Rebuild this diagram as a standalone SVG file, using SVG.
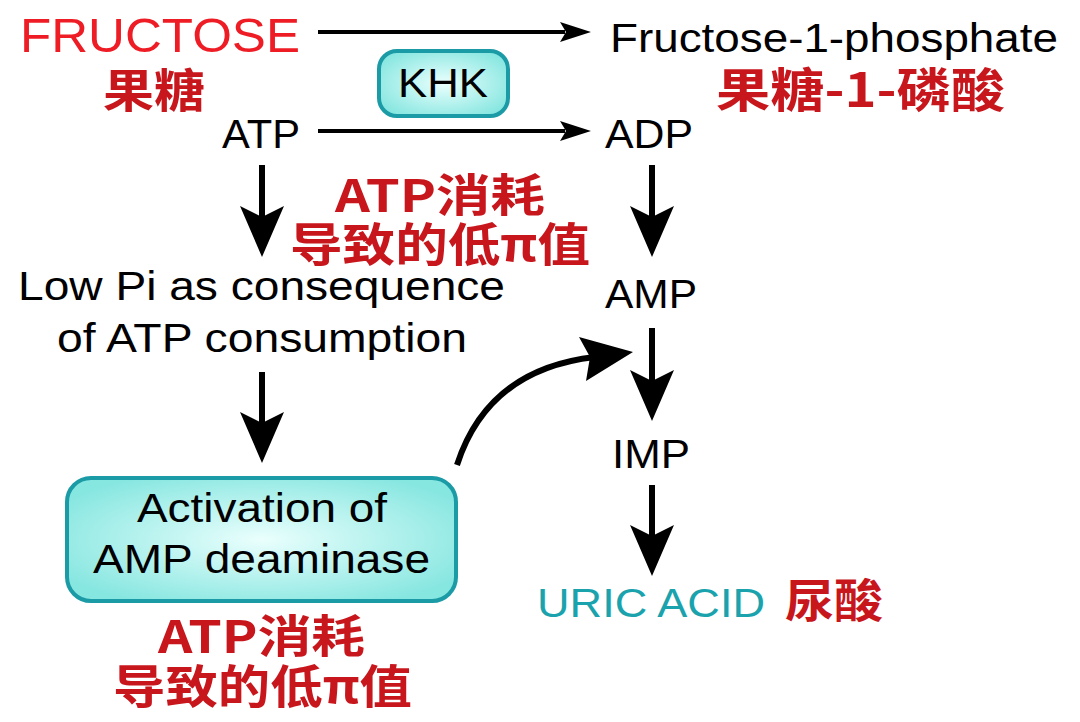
<svg xmlns="http://www.w3.org/2000/svg" width="1080" height="722" viewBox="0 0 1080 722">
<defs>
<radialGradient id="boxfill" cx="50%" cy="50%" r="60%">
<stop offset="0%" stop-color="#eafffd"/>
<stop offset="100%" stop-color="#86e6e0"/>
</radialGradient>
<style>
.lat{font-family:"Liberation Sans",Arial,sans-serif;fill:#000;}
.cn{font-family:"Noto Sans CJK SC","Noto Sans",sans-serif;font-weight:bold;fill:#c8161d;}
.box{fill:url(#boxfill);stroke:#1b9ba6;stroke-width:4;}
.ln{stroke:#000;fill:none;}
.hd{fill:#000;}
</style>
</defs>
<rect width="1080" height="722" fill="#fff"/>

<g id="fructose">
<text class="lat" x="20" y="52" font-size="48" textLength="280" lengthAdjust="spacingAndGlyphs" style="fill:#ee1c25">FRUCTOSE</text>
<text class="cn" x="103" y="107" font-size="46" textLength="102" lengthAdjust="spacingAndGlyphs">果糖</text>
</g>
<g id="f1p">
<text class="lat" x="610" y="52" font-size="41" textLength="448" lengthAdjust="spacingAndGlyphs">Fructose-1-phosphate</text>
<text class="cn" x="716" y="107" font-size="47" textLength="289" lengthAdjust="spacingAndGlyphs">果糖-1-磷酸</text>
</g>
<g id="khk">
<rect class="box" x="379" y="51" width="129" height="65" rx="18"/>
<text class="lat" x="443" y="97" font-size="40" text-anchor="middle" textLength="90" lengthAdjust="spacingAndGlyphs">KHK</text>
</g>
<g id="atp">
<text class="lat" x="222" y="148" font-size="40" textLength="78" lengthAdjust="spacingAndGlyphs">ATP</text>
</g>
<g id="adp">
<text class="lat" x="605" y="148" font-size="40" textLength="88" lengthAdjust="spacingAndGlyphs">ADP</text>
</g>
<g id="note-top">
<text class="cn" x="335" y="212" font-size="45" textLength="210" lengthAdjust="spacingAndGlyphs">ATP消耗</text>
<text class="cn" x="290" y="261" font-size="46" textLength="300" lengthAdjust="spacingAndGlyphs">导致的低π值</text>
</g>
<g id="lowpi">
<text class="lat" x="18" y="300" font-size="40" textLength="487" lengthAdjust="spacingAndGlyphs">Low Pi as consequence</text>
<text class="lat" x="57" y="352" font-size="40" textLength="410" lengthAdjust="spacingAndGlyphs">of ATP consumption</text>
</g>
<g id="amp">
<text class="lat" x="605" y="308" font-size="40" textLength="92" lengthAdjust="spacingAndGlyphs">AMP</text>
</g>
<g id="imp">
<text class="lat" x="612" y="468" font-size="40" textLength="78" lengthAdjust="spacingAndGlyphs">IMP</text>
</g>
<g id="deaminase">
<rect class="box" x="67" y="478" width="389" height="123" rx="24"/>
<text class="lat" x="137" y="522" font-size="40" textLength="250" lengthAdjust="spacingAndGlyphs">Activation of</text>
<text class="lat" x="93" y="573" font-size="40" textLength="337" lengthAdjust="spacingAndGlyphs">AMP deaminase</text>
</g>
<g id="uric">
<text class="lat" x="537" y="617" font-size="40" textLength="228" lengthAdjust="spacingAndGlyphs" style="fill:#1aa3ad">URIC ACID</text>
<text class="cn" x="785" y="617" font-size="46" textLength="98" lengthAdjust="spacingAndGlyphs">尿酸</text>
</g>
<g id="note-bottom">
<text class="cn" x="158" y="653" font-size="45" textLength="207" lengthAdjust="spacingAndGlyphs">ATP消耗</text>
<text class="cn" x="113" y="703" font-size="46" textLength="299" lengthAdjust="spacingAndGlyphs">导致的低π值</text>
</g>

<g id="connectors">
<line class="ln" x1="318" y1="32" x2="565" y2="32" stroke-width="4"/>
<polygon class="hd" points="591,32 560,22 566,32 560,42"/>
<line class="ln" x1="318" y1="131" x2="565" y2="131" stroke-width="4"/>
<polygon class="hd" points="591,131 560,121 566,131 560,141"/>
<line class="ln" x1="262" y1="165" x2="262" y2="222" stroke-width="6"/>
<polygon class="hd" points="262,257 240,206 262,217 284,206"/>
<line class="ln" x1="652" y1="165" x2="652" y2="222" stroke-width="6"/>
<polygon class="hd" points="652,257 630,206 652,217 674,206"/>
<line class="ln" x1="262" y1="372" x2="262" y2="428" stroke-width="6"/>
<polygon class="hd" points="262,463 240,412 262,423 284,412"/>
<line class="ln" x1="652" y1="328" x2="652" y2="385" stroke-width="6"/>
<polygon class="hd" points="652,421 630,370 652,381 674,370"/>
<line class="ln" x1="652" y1="485" x2="652" y2="540" stroke-width="6"/>
<polygon class="hd" points="652,576 630,525 652,536 674,525"/>
<path class="ln" d="M457,465 C478,400 525,365 595,357" stroke-width="6"/>
<polygon class="hd" points="633,352 579,337 590,357 586,381"/>
</g>
</svg>
